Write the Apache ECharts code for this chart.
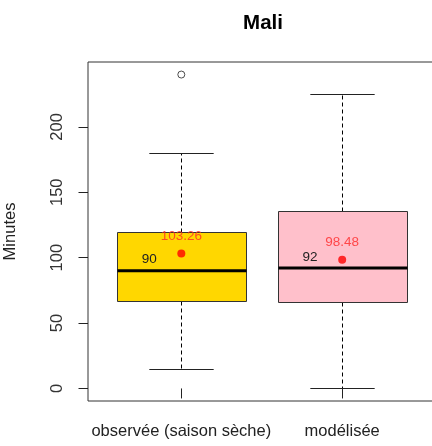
<!DOCTYPE html>
<html>
<head>
<meta charset="utf-8">
<script src="https://cdn.jsdelivr.net/npm/echarts@6/dist/echarts.min.js"></script>
<style>html,body{margin:0;padding:0;background:#fff;}#c{width:432px;height:446px;}</style>
</head>
<body>
<div id="c"></div>
<script>
// ---- data ----
const categories = ['observée (saison sèche)', 'modélisée'];
const positions = [1, 2];
const whiskerLow = [15, 0];
const q1 = [67, 66];
const median = [90, 92];
const q3 = [120, 136];
const whiskerHigh = [180, 225];
const means = [103.26, 98.48];
const outliers = [[1, 240]];
const yTicks = [0, 50, 100, 150, 200];
const boxColors = ['#FFD700', '#FFC0CB'];

const FONT = 'Liberation Sans, Arial, sans-serif';
const boxData = positions.map((p, i) => [p, whiskerLow[i], q1[i], median[i], q3[i], whiskerHigh[i], i]);
const meanData = positions.map((p, i) => [p, means[i]]);

const crisp = v => Math.round(v) + 0.5;

const chart = echarts.init(document.getElementById('c'), null, {renderer: 'canvas'});
chart.setOption({
  animation: false,
  backgroundColor: '#fff',
  title: {
    text: 'Mali', left: 258, top: 8, textAlign: 'center',
    textStyle: {fontFamily: FONT, fontSize: 20.5, fontWeight: 'bold', color: '#000'}
  },
  grid: {left: 88, right: -3.5, top: 62, bottom: 45, show: true, borderColor: '#333', borderWidth: 1,
    backgroundColor: 'transparent', containLabel: false, outerBoundsMode: 'none'},
  xAxis: {
    type: 'value', min: 0.42, max: 2.58,
    axisLine: {show: false}, splitLine: {show: false},
    axisTick: {show: true, customValues: positions, length: 10, lineStyle: {color: '#222'}},
    axisLabel: {customValues: positions, formatter: v => categories[Math.round(v) - 1] || '',
      fontFamily: FONT, fontSize: 16.5, color: '#222', margin: 22}
  },
  yAxis: {
    type: 'value', min: -9.6, max: 249.6,
    axisLine: {show: false}, splitLine: {show: false},
    axisTick: {show: true, customValues: yTicks, length: 9.5, lineStyle: {color: '#222'}},
    axisLabel: {customValues: yTicks, rotate: 90, fontFamily: FONT, fontSize: 16.5, color: '#333', margin: 22},
    name: 'Minutes', nameLocation: 'middle', nameGap: 69, nameRotate: 90,
    nameTextStyle: {fontFamily: FONT, fontSize: 16.5, color: '#222'}
  },
  series: [
    {
      type: 'custom',
      data: boxData,
      encode: {x: 0, y: [1, 2, 3, 4, 5]},
      renderItem: function (params, api) {
        const x = api.value(0);
        const idx = api.value(6);
        const w = api.size([0.8, 0])[0];
        const capW = w / 2;
        const cxRaw = api.coord([x, 0])[0];
        const cx = crisp(cxRaw);
        const yLow = crisp(api.coord([x, api.value(1)])[1]);
        const yQ1 = crisp(api.coord([x, api.value(2)])[1]);
        const yMed = api.coord([x, api.value(3)])[1];
        const yQ3 = crisp(api.coord([x, api.value(4)])[1]);
        const yHigh = crisp(api.coord([x, api.value(5)])[1]);
        const lblPt = api.coord([x - 0.2, api.value(3)]);
        const dash = {stroke: '#000', lineWidth: 1, lineDash: [4, 3]};
        const solid = {stroke: '#222', lineWidth: 1};
        const bx0 = crisp(cxRaw - w / 2), bx1 = crisp(cxRaw + w / 2);
        return {
          type: 'group',
          children: [
            {type: 'line', shape: {x1: cx, y1: yQ3, x2: cx, y2: yHigh}, style: dash},
            {type: 'line', shape: {x1: cx, y1: yQ1, x2: cx, y2: yLow}, style: dash},
            {type: 'line', shape: {x1: cx - capW / 2, y1: yHigh, x2: cx + capW / 2, y2: yHigh}, style: solid},
            {type: 'line', shape: {x1: cx - capW / 2, y1: yLow, x2: cx + capW / 2, y2: yLow}, style: solid},
            {type: 'rect', shape: {x: bx0, y: yQ3, width: bx1 - bx0, height: yQ1 - yQ3},
              style: {fill: boxColors[idx], stroke: '#333', lineWidth: 1}},
            {type: 'line', shape: {x1: bx0, y1: yMed, x2: bx1, y2: yMed}, style: {stroke: '#000', lineWidth: 3}},
            {type: 'text', x: lblPt[0], y: lblPt[1] - 11,
              style: {text: String(api.value(3)), fontFamily: FONT, fontSize: 13.5, fill: '#222', align: 'center', verticalAlign: 'middle'}}
          ]
        };
      },
      z: 2
    },
    {
      type: 'scatter',
      data: meanData,
      symbol: 'circle', symbolSize: 8,
      itemStyle: {color: '#ff0000'},
      label: {show: true, position: 'top', distance: 6, formatter: p => p.value[1].toFixed(2),
        fontFamily: FONT, fontSize: 13.5, color: '#ff2828'},
      z: 5
    },
    {
      type: 'scatter',
      data: outliers,
      symbol: 'circle', symbolSize: 7,
      itemStyle: {color: '#fff', borderColor: '#222', borderWidth: 1},
      z: 5
    }
  ]
});
</script>
</body>
</html>
